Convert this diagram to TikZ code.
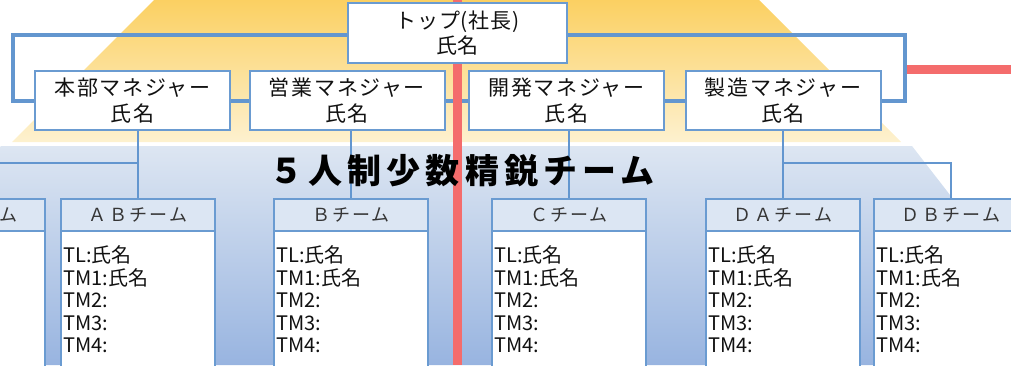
\documentclass[tikz,border=0pt]{standalone}
\usepackage{fontspec}
\setmainfont{Noto Sans CJK JP}
\usetikzlibrary{backgrounds}
\definecolor{ytop}{HTML}{FBD062}
\definecolor{ybot}{HTML}{FDF1CF}
\definecolor{btop}{HTML}{DDE6F2}
\definecolor{bbot}{HTML}{98B4E0}
\definecolor{linec}{HTML}{6396CF}
\definecolor{boxc}{HTML}{6A9BD1}
\definecolor{redc}{HTML}{F46C6C}
\definecolor{hdrc}{HTML}{DCE6F3}
\definecolor{txtc}{HTML}{111111}
\newcommand\mgrfont{\fontsize{21pt}{26pt}\selectfont\addfontfeature{LetterSpace=8}}
\newcommand\topfont{\fontsize{21pt}{25pt}\selectfont\addfontfeature{LetterSpace=4}}
\newcommand\hdrfont{\fontsize{18pt}{20pt}\selectfont\addfontfeature{LetterSpace=12}}
\newcommand\bodyfont{\fontsize{20pt}{22pt}\selectfont}
\newcommand\titlefont{\fontsize{34pt}{36pt}\selectfont\bfseries\addfontfeature{LetterSpace=15}}
\tikzset{
  conn/.style={draw=linec,line width=4pt},
  tconn/.style={draw=linec,line width=2pt},
  redl/.style={draw=redc,line width=9pt},
  topbox/.style={draw=boxc,line width=2pt,fill=white,minimum width=219pt,minimum height=60pt,inner sep=0pt,align=center,font=\topfont,text=txtc},
  mgr/.style={draw=boxc,line width=2pt,fill=white,minimum width=195pt,minimum height=59pt,inner sep=0pt,align=center,font=\mgrfont,text=txtc},
  thdr/.style={draw=boxc,line width=2pt,fill=hdrc,minimum width=154pt,minimum height=32pt,inner sep=0pt,font=\hdrfont,text=txtc!85},
  tbody/.style={draw=boxc,line width=2pt,fill=white,minimum width=154pt,minimum height=160pt,inner sep=0pt},
  tline/.style={anchor=base west,inner sep=0pt,font=\bodyfont,text=txtc},
}
\newcommand\teambox[3]{%
  \node[thdr,anchor=north west] (#1h) at (#2,198) {#3};
  \node[tbody,anchor=north west] (#1b) at (#2,230) {};
  \foreach \t [count=\i] in {TL:氏名,TM1:氏名,TM2:,TM3:,TM4:}{
    \node[tline] (#1l\i) at ({#2+3},{262.6+22.5*(\i-1)}) {\t};
  }
}
\begin{document}
\begin{tikzpicture}[x=1pt,y=-1pt]
\useasboundingbox (0,0) rectangle (1011,365);
\clip (0,0) rectangle (1011,365);
% boxes
\node[topbox] (top) at (457.5,33) {トップ(社長)\\氏名};
\node[mgr] (m1) at (132.5,100.5) {本部マネジャー\\氏名};
\node[mgr] (m2) at (347,100.5) {営業マネジャー\\氏名};
\node[mgr] (m3) at (566.5,100.5) {開発マネジャー\\氏名};
\node[mgr] (m4) at (783,100.5) {製造マネジャー\\氏名};
\node[thdr,anchor=north west] (aah) at (-110,198) {ＡＡチーム};
\node[tbody,anchor=north west] (aab) at (-110,230) {};
\teambox{ab}{60}{ＡＢチーム}
\teambox{b}{273}{Ｂチーム}
\teambox{c}{491}{Ｃチーム}
\teambox{da}{705}{ＤＡチーム}
\teambox{db}{873}{ＤＢチーム}
\node[font=\titlefont,text=black] (title) at (462,171) {５人制少数精鋭チーム};
% background layer
\begin{scope}[on background layer]
  \clip (0,0) rectangle (1011,365);
  \shade[top color=ytop,bottom color=ybot] (154,0) -- (759,0) -- (901,142) -- (12,142) -- cycle;
  \shade[top color=btop,bottom color=bbot] (1,146) -- (912,146) -- (1082,365) -- (-169,365) -- cycle;
  \coordinate (cl) at (13,35);
  \coordinate (cr) at (905,35);
  \coordinate (bus) at (0,163);
  \draw[conn] (m1.west) -| (cl) -- (cr) |- (m4.east);
  \draw[conn] (m1.east) -- (m2.west);
  \draw[conn] (m2.east) -- (m3.west);
  \draw[conn] (m3.east) -- (m4.west);
  \draw[tconn] (m1.south -| abh.north) -- (abh.north);
  \draw[tconn] (abh.north |- bus) -| (aah.north);
  \draw[tconn] (m2.south -| bh.north) -- (bh.north);
  \draw[tconn] (m3.south -| ch.north) -- (ch.north);
  \draw[tconn] (m4.south -| dah.north) -- (dah.north);
  \draw[tconn] (dah.north |- bus) -| (dbh.north);
  \coordinate (rt) at (457,0);
  \coordinate (rb) at (457,365);
  \coordinate (rh1) at (907,69);
  \coordinate (rh2) at (1011,69);
  \draw[redl] (rt) -- (rb);
  \draw[redl] (rh1) -- (rh2);
\end{scope}
\end{tikzpicture}
\end{document}
